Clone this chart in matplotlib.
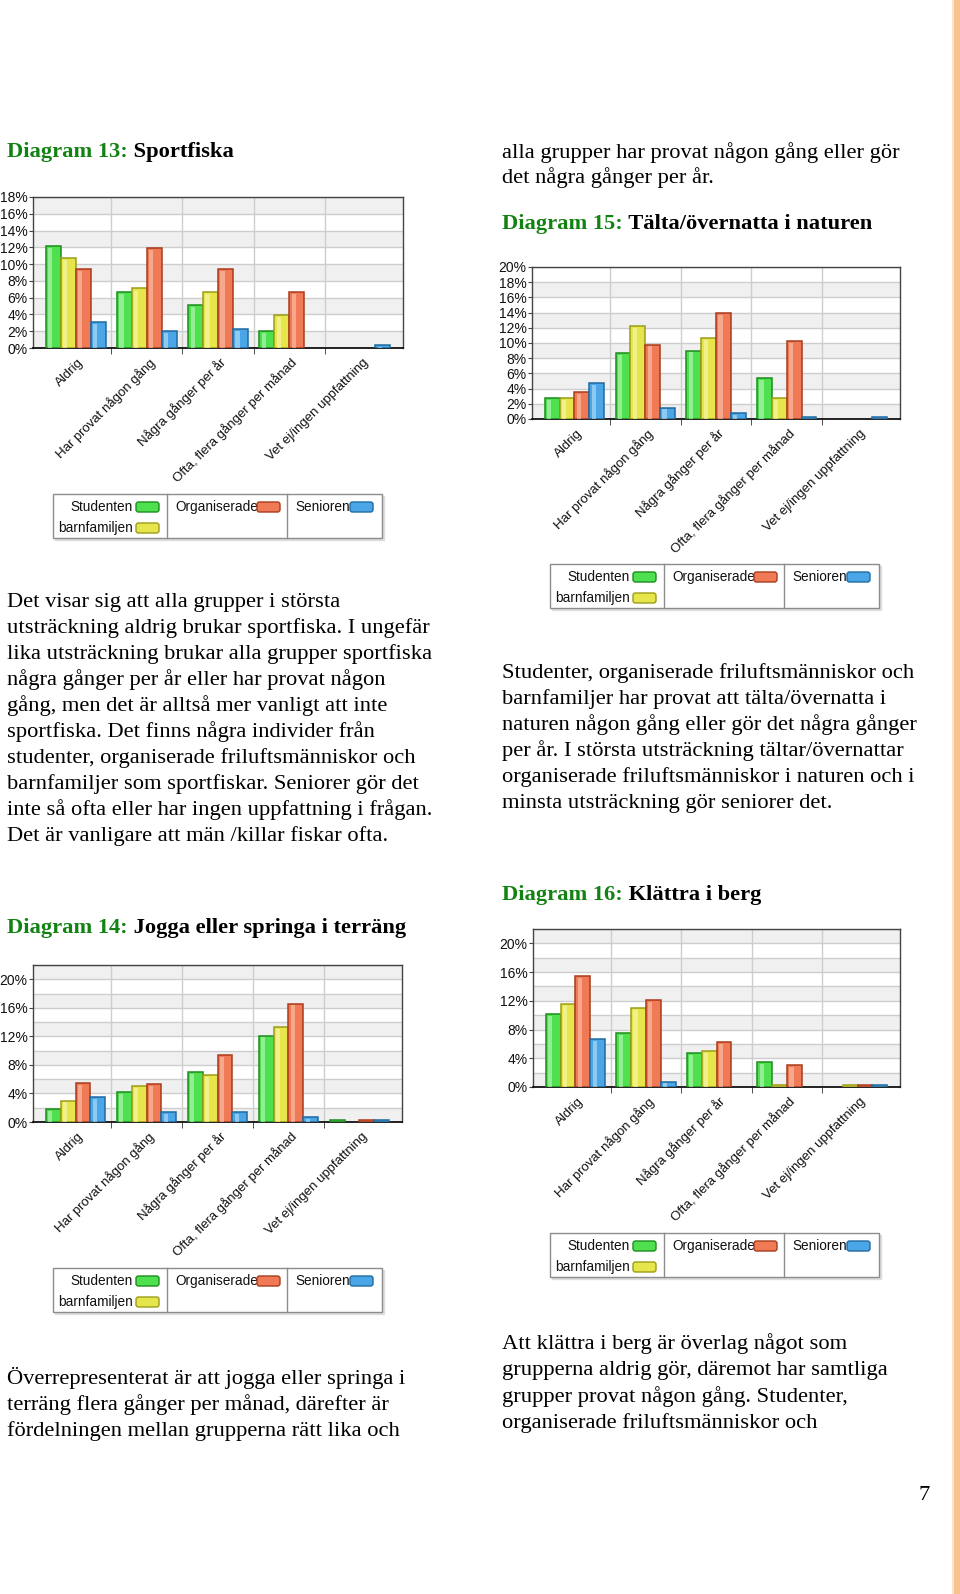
import numpy as np
import matplotlib.pyplot as plt
from matplotlib.patches import Rectangle, FancyBboxPatch
from matplotlib.ticker import FuncFormatter
from matplotlib.transforms import ScaledTranslation

plt.rcParams['font.family'] = ['Liberation Sans', 'DejaVu Sans']

# ---- data -------------------------------------------------------------
categories = ["Aldrig", "Har provat någon gång", "Några gånger per år",
              "Ofta, flera gånger per månad", "Vet ej/ingen uppfattning"]
groups = ["Studenten", "barnfamiljen", "Organiserade", "Senioren"]

# Diagram 13: Sportfiska
d13_studenten = [12.2, 6.7, 5.1, 2.0, 0]
d13_barnfamiljen = [10.75, 7.1, 6.7, 3.9, 0]
d13_organiserade = [9.4, 11.9, 9.4, 6.7, 0]
d13_senioren = [3.1, 2.0, 2.3, 0, 0.4]

# Diagram 15: Tälta/övernatta i naturen
d15_studenten = [2.7, 8.7, 9.0, 5.4, 0]
d15_barnfamiljen = [2.7, 12.25, 10.6, 2.7, 0]
d15_organiserade = [3.6, 9.8, 13.9, 10.25, 0]
d15_senioren = [4.7, 1.5, 0.8, 0.3, 0.3]

# Diagram 14: Jogga eller springa i terräng
d14_studenten = [1.8, 4.2, 7.0, 12.1, 0.25]
d14_barnfamiljen = [3.0, 5.0, 6.6, 13.35, 0]
d14_organiserade = [5.4, 5.3, 9.4, 16.6, 0.25]
d14_senioren = [3.5, 1.4, 1.4, 0.7, 0.25]

# Diagram 16: Klättra i berg
d16_studenten = [10.2, 7.45, 4.75, 3.5, 0]
d16_barnfamiljen = [11.5, 10.95, 5.05, 0.3, 0.3]
d16_organiserade = [15.4, 12.1, 6.2, 3.05, 0.3]
d16_senioren = [6.65, 0.75, 0, 0, 0.3]

top_right_lines = ["alla grupper har provat någon gång eller gör",
                   "det några gånger per år."]
para13 = ["Det visar sig att alla grupper i största",
          "utsträckning aldrig brukar sportfiska. I ungefär",
          "lika utsträckning brukar alla grupper sportfiska",
          "några gånger per år eller har provat någon",
          "gång, men det är alltså mer vanligt att inte",
          "sportfiska. Det finns några individer från",
          "studenter, organiserade friluftsmänniskor och",
          "barnfamiljer som sportfiskar. Seniorer gör det",
          "inte så ofta eller har ingen uppfattning i frågan.",
          "Det är vanligare att män /killar fiskar ofta."]
para15 = ["Studenter, organiserade friluftsmänniskor och",
          "barnfamiljer har provat att tälta/övernatta i",
          "naturen någon gång eller gör det några gånger",
          "per år. I största utsträckning tältar/övernattar",
          "organiserade friluftsmänniskor i naturen och i",
          "minsta utsträckning gör seniorer det."]
para14 = ["Överrepresenterat är att jogga eller springa i",
          "terräng flera gånger per månad, därefter är",
          "fördelningen mellan grupperna rätt lika och"]
para16 = ["Att klättra i berg är överlag något som",
          "grupperna aldrig gör, däremot har samtliga",
          "grupper provat någon gång. Studenter,",
          "organiserade friluftsmänniskor och"]

# ---- style ------------------------------------------------------------
W, H = 960, 1594
SERIF = 'Liberation Serif'
BODY = 16.2
GREEN_HEAD = '#128212'
fills = ['#4fe04f', '#e6e64c', '#f07a55', '#4aa6e6']
edges = ['#1e8c1e', '#9c9c1a', '#a83c1c', '#1f6aa0']
highs = ['#c0f8c0', '#fafab8', '#fbc8b2', '#bde2fa']

fig = plt.figure(figsize=(W / 100, H / 100), dpi=100)
bg = fig.add_axes([0, 0, 1, 1])
bg.set_xlim(0, W)
bg.set_ylim(H, 0)
bg.axis('off')


def chart(box, series, ymax, step):
    x0, y0, x1, y1 = box
    ax = fig.add_axes([x0 / W, 1 - y1 / H, (x1 - x0) / W, (y1 - y0) / H])
    x = np.arange(len(categories))

    for lo in np.arange(0, ymax, 4):
        ax.axhspan(lo, min(lo + 2, ymax), color='#f0f0f0', lw=0, zorder=0)
    ax.set_yticks(np.arange(0, ymax + 0.01, 2), minor=True)
    ax.set_yticks(np.arange(0, ymax + 0.01, step))
    ax.yaxis.set_major_formatter(FuncFormatter(lambda v, _: f"{v:.0f}%"))
    ax.grid(axis='y', which='both', color='#cdcdcd', lw=1)
    ax.set_axisbelow(True)
    for b in x[:-1] + 0.5:
        ax.axvline(b, color='#cdcdcd', lw=1, zorder=1)

    w = 0.21
    offs = (np.arange(len(groups)) - 1.5) * w
    for vals, off, fc, ec, hc in zip(series, offs, fills, edges, highs):
        v = np.asarray(vals, float)
        m = v > 0
        ax.bar(x[m] + off, v[m], width=w, color=fc, edgecolor=ec, lw=1.1, zorder=3)
        ax.bar(x[m] + off - 0.2 * w, np.maximum(v[m] - 0.25, 0), width=0.28 * w,
               color=hc, alpha=0.6, lw=0, zorder=4)

    ax.set_xlim(-0.6, 4.6)
    ax.set_ylim(0, ymax)
    ax.set_xticks(x)
    ax.set_xticklabels(categories, rotation=45, ha='right', va='center',
                       rotation_mode='anchor', fontsize=9.5, color='#111')
    ax.set_xticks(x[:-1] + 0.5, minor=True)
    ax.tick_params(axis='x', which='major', length=0, pad=9)
    ax.tick_params(axis='x', which='minor', length=4, color='#333')
    ax.tick_params(axis='y', which='major', length=3, pad=1, labelsize=10,
                   color='#444', labelcolor='#111')
    ax.tick_params(axis='y', which='minor', length=0)
    shift = ScaledTranslation(6 / 100, 0, fig.dpi_scale_trans)
    for lbl in ax.get_xticklabels():
        lbl.set_transform(lbl.get_transform() + shift)
    for s in ax.spines.values():
        s.set_color('#444')
        s.set_linewidth(1)
    ax.spines['bottom'].set_color('#111')
    ax.spines['bottom'].set_linewidth(1.3)
    return ax


def legend(x0, y0):
    bw, bh = 329, 44
    bg.add_patch(Rectangle((x0 + 2, y0 + 2), bw, bh, color='#dddddd', zorder=1))
    bg.add_patch(Rectangle((x0, y0), bw, bh, fc='white', ec='#8c8c8c', lw=1, zorder=2))
    for dx in (114, 234):
        bg.plot([x0 + dx, x0 + dx], [y0, y0 + bh], color='#8c8c8c', lw=1, zorder=3)
    slots = [(80, 13, 'right', 83), (80, 34, 'right', 83),
             (122, 13, 'left', 204), (242, 13, 'left', 297)]
    for name, (tx, ty, ha, sx), fc, ec in zip(groups, slots, fills, edges):
        bg.text(x0 + tx, y0 + ty, name, ha=ha, va='center', fontsize=9.8,
                color='#111', zorder=4)
        bg.add_patch(FancyBboxPatch((x0 + sx, y0 + ty - 5), 23, 10,
                                    boxstyle='round,pad=0,rounding_size=2.5',
                                    fc=fc, ec=ec, lw=1, zorder=4))


def heading(x, y, num, title):
    t = bg.text(x, y, num, color=GREEN_HEAD, weight='bold', fontsize=BODY,
                family=SERIF, va='baseline')
    bg.annotate(" " + title, xy=(1, 0), xycoords=t, va='bottom', ha='left',
                weight='bold', fontsize=BODY, family=SERIF, color='black')


def paragraph(x, y, lines, gap=26.2):
    for i, s in enumerate(lines):
        bg.text(x, y + i * gap, s, fontsize=BODY, family=SERIF, va='baseline',
                color='black')


# right page edge
bg.add_patch(Rectangle((953, 0), 7, H, color='#f6c390', lw=0))
bg.add_patch(Rectangle((952, 0), 1.5, H, color='#fbe2c8', lw=0))

LX, RX = 7, 502

heading(LX, 157, "Diagram 13:", "Sportfiska")
paragraph(RX, 157.5, top_right_lines, gap=25.5)
heading(RX, 229, "Diagram 15:", "Tälta/övernatta i naturen")
paragraph(LX, 607, para13, gap=26.0)
paragraph(RX, 678, para15, gap=26.0)
heading(RX, 900, "Diagram 16:", "Klättra i berg")
heading(LX, 933, "Diagram 14:", "Jogga eller springa i terräng")
paragraph(LX, 1384, para14, gap=26.0)
paragraph(RX, 1349, para16, gap=26.3)
bg.text(930, 1500, "7", fontsize=BODY, family=SERIF, ha='right', va='baseline')

chart((33, 197, 403, 348),
      [d13_studenten, d13_barnfamiljen, d13_organiserade, d13_senioren], 18, 2)
legend(53, 494)
chart((532, 267, 900, 419),
      [d15_studenten, d15_barnfamiljen, d15_organiserade, d15_senioren], 20, 2)
legend(550, 564)
chart((33, 965, 402, 1122),
      [d14_studenten, d14_barnfamiljen, d14_organiserade, d14_senioren], 22, 4)
legend(53, 1268)
chart((533, 929, 900, 1087),
      [d16_studenten, d16_barnfamiljen, d16_organiserade, d16_senioren], 22, 4)
legend(550, 1233)

fig.savefig('out.png', dpi=100, facecolor='white')
